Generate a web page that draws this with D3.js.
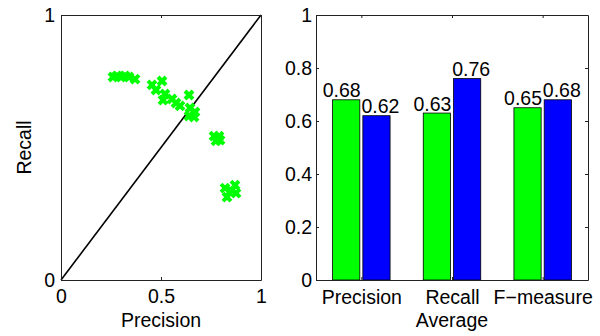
<!DOCTYPE html>
<html>
<head>
<meta charset="utf-8">
<script src="https://cdn.jsdelivr.net/npm/d3@7"></script>
<style>
  body { margin: 0; background: #fff; }
  text { font-family: "Liberation Sans", Arial, Helvetica, sans-serif; }
</style>
</head>
<body>
<div id="container"></div>
<script>
// scatter: precision / recall per image
const precision = [0.26, 0.28, 0.30, 0.32, 0.34, 0.37,
  0.455, 0.505, 0.475, 0.52, 0.51, 0.555, 0.575, 0.595, 0.64, 0.645, 0.67, 0.64, 0.665,
  0.765, 0.79, 0.775, 0.795,
  0.82, 0.87, 0.83, 0.875, 0.85];
const recall = [0.766, 0.770, 0.766, 0.770, 0.766, 0.758,
  0.736, 0.751, 0.717, 0.702, 0.679, 0.683, 0.668, 0.657, 0.698, 0.649, 0.634, 0.619, 0.615,
  0.543, 0.543, 0.525, 0.528,
  0.347, 0.358, 0.313, 0.328, 0.336];

// bar chart: averages
const categories = ["Precision", "Recall", "F\u2212measure"];
const series = ["A", "B"];
const valuesA = [0.68, 0.63, 0.65];
const valuesB = [0.62, 0.76, 0.68];
const barTicks = [0, 0.2, 0.4, 0.6, 0.8, 1];

const width = 600;
const height = 336;
const fontSize = 19.5;

const svg = d3.create("svg").attr("width", width).attr("height", height);

// ---------- left: scatter ----------
const left = { x0: 61, x1: 261, y0: 15, y1: 280 };

const px = d3.scaleLinear().domain([0, 1]).range([left.x0, left.x1]);
const py = d3.scaleLinear().domain([0, 1]).range([left.y1, left.y0]);

const gL = svg.append("g");

gL.append("line")
  .attr("x1", px(0)).attr("y1", py(0))
  .attr("x2", px(1)).attr("y2", py(1))
  .attr("stroke", "#000")
  .attr("stroke-width", 1.6);

gL.selectAll("path.pt")
  .data(precision.map((p, i) => [p, recall[i]]))
  .enter()
  .append("path")
  .attr("class", "pt")
  .attr("transform", (d) => `translate(${px(d[0])},${py(d[1])})`)
  .attr("d", "M-4,-4L4,4M-4,4L4,-4")
  .attr("stroke", "#00ff00")
  .attr("stroke-width", 4)
  .attr("fill", "none");

const styleAxis = (g) => {
  g.select(".domain").attr("stroke", "#222");
  g.selectAll(".tick line").attr("stroke", "#222");
  g.selectAll("text").attr("font-size", fontSize).attr("fill", "#000");
};

gL.append("g")
  .attr("transform", `translate(0,${left.y1})`)
  .call(d3.axisBottom(px).tickValues([0, 0.5, 1]).tickFormat(d3.format("")).tickSize(-3).tickSizeOuter(0).tickPadding(9))
  .call(styleAxis);
gL.append("g")
  .attr("transform", `translate(0,${left.y0})`)
  .call(d3.axisTop(px).tickValues([0, 0.5, 1]).tickFormat("").tickSize(-3).tickSizeOuter(0))
  .call(styleAxis);
gL.append("g")
  .attr("transform", `translate(${left.x0},0)`)
  .call(d3.axisLeft(py).tickValues([0, 1]).tickFormat(d3.format("")).tickSize(-3).tickSizeOuter(0).tickPadding(6))
  .call(styleAxis);
gL.append("g")
  .attr("transform", `translate(${left.x1},0)`)
  .call(d3.axisRight(py).tickValues([0, 1]).tickFormat("").tickSize(-3).tickSizeOuter(0))
  .call(styleAxis);

gL.append("text")
  .attr("x", (left.x0 + left.x1) / 2)
  .attr("y", 327)
  .attr("text-anchor", "middle")
  .attr("font-size", fontSize)
  .text("Precision");

gL.append("text")
  .attr("transform", `translate(31,${(left.y0 + left.y1) / 2}) rotate(-90)`)
  .attr("text-anchor", "middle")
  .attr("font-size", fontSize)
  .text("Recall");

// ---------- right: grouped bars ----------
const right = { x0: 316, x1: 588, y0: 15, y1: 280 };

const bx = d3.scaleLinear().domain([0.5, 3.5]).range([right.x0, right.x1]);
const by = d3.scaleLinear().domain([0, 1]).range([right.y1, right.y0]);
const unit = bx(1) - bx(0);
const sub = d3.scaleBand().domain(series).range([-0.317 * unit, 0.317 * unit]).paddingInner(0.1);
const colors = { A: "#00ff00", B: "#0000ff" };
const labelShift = { A: -4.5, B: 4 };

const gR = svg.append("g");

const rows = [];
categories.forEach((c, i) => {
  rows.push({ s: "A", i: i + 1, v: valuesA[i] });
  rows.push({ s: "B", i: i + 1, v: valuesB[i] });
});

gR.selectAll("rect")
  .data(rows)
  .enter()
  .append("rect")
  .attr("x", (d) => bx(d.i) + sub(d.s))
  .attr("y", (d) => by(d.v))
  .attr("width", sub.bandwidth())
  .attr("height", (d) => by(0) - by(d.v))
  .attr("fill", (d) => colors[d.s])
  .attr("stroke", "#000")
  .attr("stroke-width", 0.8);

gR.selectAll("text.val")
  .data(rows)
  .enter()
  .append("text")
  .attr("class", "val")
  .attr("x", (d) => bx(d.i) + sub(d.s) + sub.bandwidth() / 2 + labelShift[d.s])
  .attr("y", (d) => by(d.v) - 2.5)
  .attr("text-anchor", "middle")
  .attr("font-size", fontSize)
  .text((d) => d.v.toFixed(2));

gR.append("g")
  .attr("transform", `translate(0,${right.y1})`)
  .call(d3.axisBottom(bx).tickValues([1, 2, 3]).tickFormat((d) => categories[d - 1]).tickSize(-3).tickSizeOuter(0).tickPadding(10))
  .call(styleAxis);
gR.append("g")
  .attr("transform", `translate(0,${right.y0})`)
  .call(d3.axisTop(bx).tickValues([1, 2, 3]).tickFormat("").tickSize(-3).tickSizeOuter(0))
  .call(styleAxis);
gR.append("g")
  .attr("transform", `translate(${right.x0},0)`)
  .call(d3.axisLeft(by).tickValues(barTicks).tickFormat(d3.format("")).tickSize(-3).tickSizeOuter(0).tickPadding(4))
  .call(styleAxis);
gR.append("g")
  .attr("transform", `translate(${right.x1},0)`)
  .call(d3.axisRight(by).tickValues(barTicks).tickFormat("").tickSize(-3).tickSizeOuter(0))
  .call(styleAxis);

gR.append("text")
  .attr("x", bx(2))
  .attr("y", 327)
  .attr("text-anchor", "middle")
  .attr("font-size", fontSize)
  .text("Average");

d3.select("#container").append(() => svg.node());
</script>
</body>
</html>
